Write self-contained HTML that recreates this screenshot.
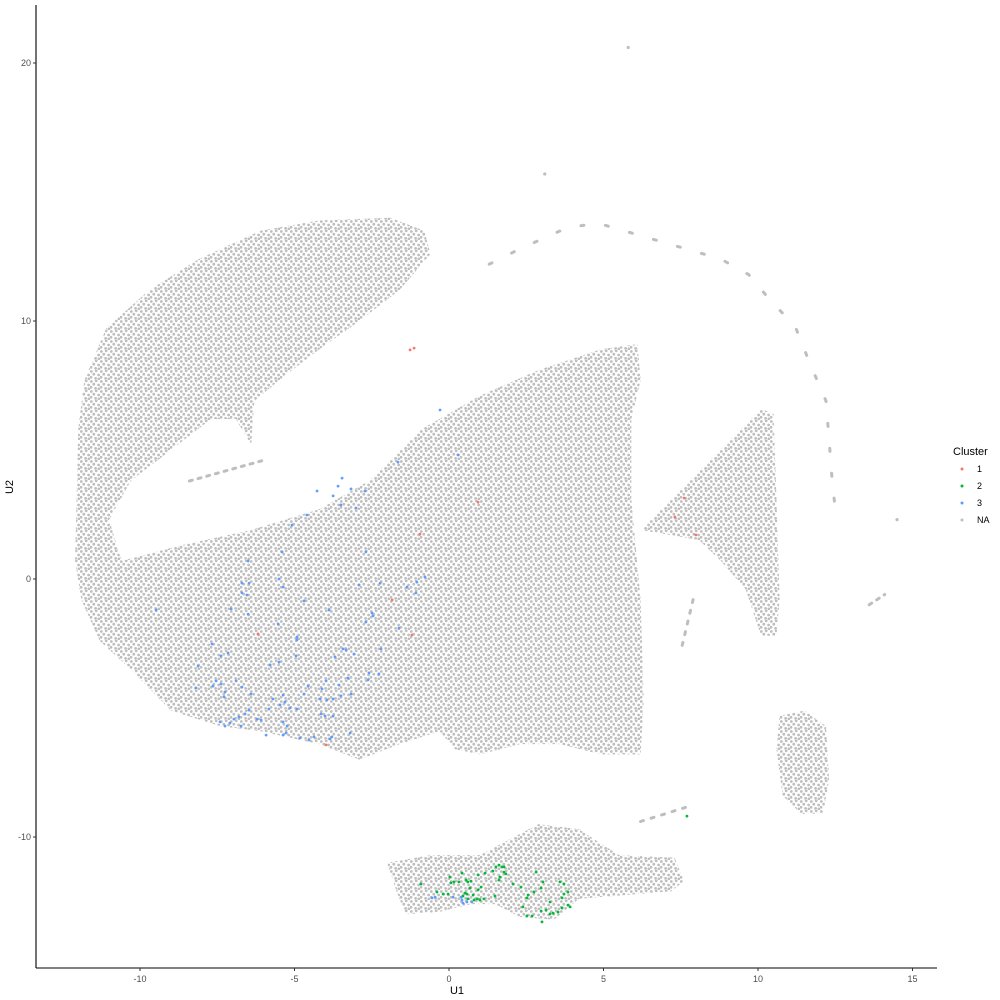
<!DOCTYPE html>
<html><head><meta charset="utf-8">
<style>
html,body{margin:0;padding:0;background:#fff;}
svg{display:block;font-family:"Liberation Sans",sans-serif;}
</style></head>
<body>
<svg id="chart" width="1000" height="1000" viewBox="0 0 1000 1000">
<defs>
<pattern id="dots" width="10" height="10" patternUnits="userSpaceOnUse">
<circle cx="1.3" cy="1.5" r="1.4" fill="#bebebe"/>
<circle cx="6.2" cy="0.8" r="1.4" fill="#bebebe"/>
<circle cx="3.8" cy="4.2" r="1.4" fill="#bebebe"/>
<circle cx="8.6" cy="5.0" r="1.4" fill="#bebebe"/>
<circle cx="1.0" cy="7.3" r="1.4" fill="#bebebe"/>
<circle cx="5.6" cy="8.4" r="1.4" fill="#bebebe"/>
<circle cx="8.9" cy="8.9" r="1.4" fill="#bebebe"/>
</pattern>
</defs>
<g id="regions"></g>
<g id="strands"></g>
<g id="points"></g>
<g id="axes"></g>
<g id="legend"></g>
</svg>
<script>
// ---- data (U1/U2 coordinates) ----
const xTicks = [-10, -5, 0, 5, 10, 15];
const yTicks = [20, 10, 0, -10];
const legendLabels = ["1", "2", "3", "NA"];
const legendColors = ["#F8766D", "#00BA38", "#619CFF", "#bebebe"];

// NA cell regions (outlines)
const regionMain = [[-12.0,5.8],[-11.8,7.7],[-11.1,9.7],[-9.7,11.2],[-8.1,12.4],[-6.1,13.5],[-4.2,13.9],[-1.9,14.0],[-0.8,13.5],[-0.6,12.6],[-1.6,11.2],[-2.9,10.0],[-4.2,8.9],[-5.5,7.7],[-6.3,6.9],[-6.4,5.2],[-6.9,6.2],[-7.7,6.2],[-9.0,5.0],[-10.3,3.8],[-11.0,2.3],[-10.6,0.7],[-8.7,1.3],[-6.4,1.9],[-4.2,2.7],[-2.6,3.8],[-0.9,5.8],[1.0,7.1],[2.9,8.1],[4.9,8.9],[6.1,9.1],[6.2,7.7],[5.9,6.2],[5.9,3.1],[6.2,-0.8],[6.3,-4.7],[6.2,-6.8],[4.9,-6.8],[3.6,-6.4],[2.3,-6.4],[1.0,-6.8],[0.2,-6.6],[-0.3,-5.9],[-1.6,-6.4],[-2.9,-7.0],[-4.2,-6.4],[-6.1,-5.9],[-7.4,-5.7],[-9.0,-5.1],[-10.3,-3.5],[-11.3,-2.4],[-11.9,-0.8],[-12.1,0.7]];
const regionRight = [[6.2,1.9],[8.1,4.2],[10.1,6.6],[10.5,6.4],[10.6,3.1],[10.7,-0.8],[10.6,-2.2],[10.1,-2.2],[9.6,-0.4],[8.8,0.7],[8.1,1.5],[7.2,1.7]];
const regionOval = [[10.7,-5.3],[11.5,-5.1],[12.2,-5.7],[12.3,-7.8],[12.1,-9.1],[11.4,-9.1],[10.8,-8.4],[10.6,-6.6]];
const regionBottom = [[-2.0,-11.0],[-0.6,-10.7],[1.0,-10.7],[2.9,-9.5],[4.2,-9.7],[5.5,-10.7],[7.3,-10.8],[7.6,-11.7],[7.2,-12.1],[4.2,-12.4],[3.4,-13.2],[2.3,-13.1],[1.5,-12.6],[0.7,-12.6],[-0.3,-12.9],[-1.4,-13.0],[-1.7,-12.1]];

const strandArc = [[1.3,12.2],[2.3,12.8],[3.8,13.6],[4.8,13.8],[8.8,12.4],[9.7,11.8],[10.4,10.8],[11.2,9.8],[11.7,8.3],[12.2,6.9],[12.3,5.4],[12.4,3.8],[12.5,2.7]];
const strandSpike = [[7.9,-0.8],[7.5,-2.8]];
const strandFar = [[13.6,-1.0],[14.1,-0.6]];
const strandSmall = [[6.2,-9.4],[7.8,-8.8]];
const strandLeft = [[-8.4,3.8],[-6.0,4.6]];
const isolatedX = [5.8, 3.1, 14.5];
const isolatedY = [20.6, 15.7, 2.3];

// cluster 1 (red)
const c1x = [-1.26,-1.13,7.61,7.31,7.99,0.94,-0.94,-1.84,-1.20,-6.18,-3.98];
const c1y = [8.88,8.95,3.14,2.40,1.71,2.98,1.74,-0.81,-2.17,-2.13,-6.43];
// cluster 2 (green)
const c2x = [-0.91,-0.39,-0.19,-0.03,0.03,0.06,0.16,0.32,0.42,0.55,0.61,0.71,0.68,0.52,0.58,0.45,0.61,0.78,0.81,0.91,1.00,1.13,0.94,1.04,0.94,1.17,1.42,1.52,1.62,1.72,1.78,1.78,1.84,1.65,1.62,1.49,2.07,2.33,2.82,3.04,2.98,2.75,2.56,2.52,2.39,2.52,2.69,2.98,3.14,3.01,3.27,3.37,3.53,3.66,3.59,3.72,3.85,3.72,3.66,3.85,3.92,3.27,7.70];
const c2y = [-11.82,-12.13,-12.21,-12.21,-11.55,-11.78,-11.74,-11.74,-11.40,-11.67,-11.74,-11.71,-11.98,-12.17,-12.21,-12.29,-12.40,-12.25,-12.44,-12.40,-12.44,-12.40,-12.05,-11.94,-11.47,-11.40,-11.32,-11.16,-11.09,-11.16,-11.16,-11.36,-11.43,-11.55,-11.67,-12.29,-11.82,-11.94,-11.36,-11.74,-11.98,-12.13,-12.25,-12.36,-12.71,-13.06,-13.06,-12.87,-12.83,-13.29,-12.98,-12.95,-12.91,-12.75,-11.74,-11.82,-12.13,-12.21,-12.36,-12.64,-12.71,-12.52,-9.19];
// cluster 3 (blue)
const c3x = [-1.65,-3.46,-3.59,-3.17,-4.27,-2.72,-3.75,-3.50,-3.01,-4.60,-5.08,-5.40,-2.69,-6.50,-5.50,-6.70,-6.47,-5.37,-6.70,-6.54,-2.91,-2.23,-1.04,-0.78,-1.36,-1.07,-4.69,-7.05,-3.88,-6.50,-2.49,-2.46,-2.69,-5.53,-1.62,-4.92,-4.92,-7.67,-3.43,-3.33,-2.20,-7.15,-7.38,-4.95,-3.07,-3.69,-5.50,-5.79,-8.12,-2.59,-2.27,-3.27,-2.62,-3.98,-6.89,-7.54,-7.64,-7.38,-6.70,-4.56,-3.56,-4.11,-8.19,-7.25,-6.41,-4.69,-7.28,-5.37,-3.50,-3.17,-4.17,-3.95,-3.75,-5.70,-5.31,-5.47,-5.83,-5.15,-4.92,-6.47,-6.60,-6.80,-6.96,-4.14,-4.01,-3.75,-6.21,-6.08,-5.37,-7.41,-7.25,-7.09,-6.73,-5.24,-5.37,-5.27,-5.92,-4.82,-4.53,-4.37,-3.85,-3.79,-3.20,-0.29,0.29,-9.48,-0.55,-0.45,0.13,0.39,0.42,0.45,0.58,0.74];
const c3y = [4.53,3.91,3.60,3.49,3.41,3.41,3.22,2.87,2.75,2.48,2.09,1.05,1.05,0.70,0.00,-0.16,-0.16,-0.31,-0.54,-0.62,-0.23,-0.16,-0.12,0.08,-0.31,-0.54,-0.85,-1.16,-1.20,-1.36,-1.32,-1.43,-1.67,-1.74,-1.90,-2.25,-2.36,-2.52,-2.71,-2.75,-2.71,-2.87,-2.98,-2.98,-2.91,-3.02,-3.22,-3.33,-3.37,-3.64,-3.68,-3.84,-3.91,-3.95,-3.95,-3.95,-4.15,-4.07,-4.19,-4.15,-4.11,-4.26,-4.22,-4.38,-4.46,-4.46,-4.57,-4.50,-4.53,-4.46,-4.65,-4.69,-4.65,-4.65,-4.77,-4.88,-5.04,-5.00,-5.04,-5.08,-5.23,-5.35,-5.43,-5.23,-5.31,-5.31,-5.43,-5.47,-5.54,-5.54,-5.70,-5.58,-5.70,-5.70,-6.05,-5.97,-6.05,-6.16,-6.24,-6.12,-6.20,-6.12,-5.97,6.55,4.81,-1.20,-12.36,-12.33,-12.33,-12.33,-12.44,-12.56,-12.52,-12.52];

// ---- scales ----
function sx(v){ return 449 + v * 30.9; }
function sy(v){ return 579 - v * 25.8; }
const NS = "http://www.w3.org/2000/svg";
function mk(tag, parent, attrs){ const e = document.createElementNS(NS, tag); for (const k in attrs) e.setAttribute(k, attrs[k]); parent.appendChild(e); return e; }
const ptsStr = arr => arr.map(p => sx(p[0]).toFixed(1) + "," + sy(p[1]).toFixed(1)).join(" ");

// regions
const gR = document.getElementById("regions");
const regions = [["region-main-cluster", regionMain], ["region-right-cluster", regionRight], ["region-oval-cluster", regionOval], ["region-bottom-cluster", regionBottom]];
regions.forEach(r => {
  const p = mk("polygon", gR, {points: ptsStr(r[1]), fill: "url(#dots)", stroke: "none"});
  
  
});
// strands
const gS = document.getElementById("strands");
[["strand-arc", strandArc, "3 22"], ["strand-spike", strandSpike, "3 8"], ["strand-far", strandFar, "3 6"], ["strand-small", strandSmall, "3 8"], ["strand-left", strandLeft, "3 6"]].forEach(s => {
  const l = mk("polyline", gS, {points: ptsStr(s[1]), fill: "none", stroke: "#bebebe", "stroke-width": 3, "stroke-dasharray": s[2], "stroke-linecap": "round"});
  
  
});
isolatedX.forEach((v, i) => {
  const c = mk("circle", gS, {cx: sx(v), cy: sy(isolatedY[i]), r: 1.6, fill: "#bebebe"});
  
  
});
// cluster points
const gP = document.getElementById("points");
[[c1x, c1y, legendColors[0], "cluster-1-point"], [c3x, c3y, legendColors[2], "cluster-3-point"], [c2x, c2y, legendColors[1], "cluster-2-point"]].forEach(s => {
  s[0].forEach((v, i) => {
    const c = mk("circle", gP, {cx: sx(v), cy: sy(s[1][i]), r: 1.4, fill: s[2]});
    
    
  });
});
// axes
const gA = document.getElementById("axes");
const yl = mk("line", gA, {x1: 36, y1: 5, x2: 36, y2: 968, stroke: "#000", "stroke-width": 1.1});


const xl = mk("line", gA, {x1: 36, y1: 968, x2: 937, y2: 968, stroke: "#000", "stroke-width": 1.1});


xTicks.forEach(v => {
  const t = mk("line", gA, {x1: sx(v), y1: 968, x2: sx(v), y2: 971, stroke: "#333", "stroke-width": 1});
  
  
  const tx = mk("text", gA, {x: sx(v), y: 982, "font-size": 9, fill: "#4d4d4d", "text-anchor": "middle"});
  tx.textContent = v;
  
  
});
yTicks.forEach(v => {
  const t = mk("line", gA, {x1: 33, y1: sy(v), x2: 36, y2: sy(v), stroke: "#333", "stroke-width": 1});
  
  
  const tx = mk("text", gA, {x: 31, y: sy(v) + 3, "font-size": 9, fill: "#4d4d4d", "text-anchor": "end"});
  tx.textContent = v;
  
  
});
const xt = mk("text", gA, {x: 457, y: 994, "font-size": 11, fill: "#000", "text-anchor": "middle"});
xt.textContent = "U1";


const yt = mk("text", gA, {x: 13, y: 487, "font-size": 11, fill: "#000", "text-anchor": "middle", transform: "rotate(-90 13 487)"});
yt.textContent = "U2";


// legend
const gL = document.getElementById("legend");
const lt = mk("text", gL, {x: 953, y: 455, "font-size": 11, fill: "#000"});
lt.textContent = "Cluster";


legendLabels.forEach((lab, i) => {
  const g = mk("g", gL, {});
  
  
  mk("circle", g, {cx: 962, cy: 469 + i * 17, r: 1.5, fill: legendColors[i]});
  const t = mk("text", g, {x: 977, y: 472 + i * 17, "font-size": 9, fill: "#000"});
  t.textContent = lab;
});
</script>
</body></html>
